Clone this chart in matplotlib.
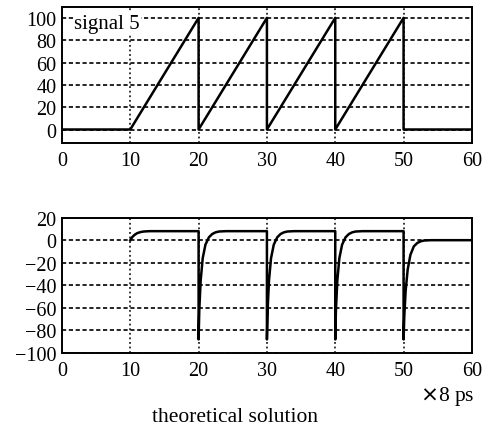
import matplotlib.pyplot as plt

plt.rcParams['font.family'] = ['Liberation Serif', 'DejaVu Serif']
plt.rcParams['font.size'] = 14.5

# signal 5 (sawtooth)
t_top = [0, 10, 20, 20, 30, 30, 40, 40, 50, 50, 60]
v_top = [0, 0, 100, 0, 100, 0, 100, 0, 100, 0, 0]

# theoretical solution
t_bot = [10, 10.3, 10.6, 11.0, 11.5, 12.0, 12.5, 13.0, 20,
         20, 20.1, 20.3, 20.6, 21.0, 21.5, 22.0, 22.5, 23.0, 24.0, 30,
         30, 30.1, 30.3, 30.6, 31.0, 31.5, 32.0, 32.5, 33.0, 34.0, 40,
         40, 40.1, 40.3, 40.6, 41.0, 41.5, 42.0, 42.5, 43.0, 44.0, 50,
         50, 50.1, 50.3, 50.6, 51.0, 51.5, 52.0, 52.5, 53.0, 54.0, 60]
v_bot = [0, 2.8, 4.6, 6.2, 7.2, 7.7, 7.9, 8, 8,
         -88, -62, -36, -16, -4, 2.5, 5.5, 7, 7.7, 8, 8,
         -88, -62, -36, -16, -4, 2.5, 5.5, 7, 7.7, 8, 8,
         -88, -62, -36, -16, -4, 2.5, 5.5, 7, 7.7, 8, 8,
         -88, -68, -45, -26, -13, -5.5, -2.5, -1, -0.3, 0, 0]

xticks = [0, 10, 20, 30, 40, 50, 60]
yticks_top = [0, 20, 40, 60, 80, 100]
yticks_bot = [-100, -80, -60, -40, -20, 0, 20]

fig = plt.figure(figsize=(4.84, 4.27), dpi=100)
ax1 = fig.add_axes([0.128, 0.663, 0.847, 0.319])
ax2 = fig.add_axes([0.128, 0.171, 0.847, 0.317])


def style(ax, yticks):
    ax.set_xlim(0, 60)
    ax.set_xticks(xticks)
    ax.set_yticks(yticks)
    ax.tick_params(length=0, pad=4)
    ax.tick_params(axis='x', pad=6)
    for s in ax.spines.values():
        s.set_linewidth(1.4)
    for x in xticks[1:-1]:
        ax.axvline(x, color='black', lw=1.1, ls=(0, (1.2, 1.8)), zorder=1)
    for y in yticks:
        ax.axhline(y, color='black', lw=1.2, ls=(0, (2.5, 1.6)), zorder=1)


style(ax1, yticks_top)
ax1.set_ylim(-12, 110)
ax1.plot(t_top, v_top, color='black', lw=1.8, zorder=3)
ax1.text(1.8, 95, 'signal 5', fontsize=15, va='center', ha='left',
         bbox=dict(facecolor='white', edgecolor='none', pad=1), zorder=4)

style(ax2, yticks_bot)
ax2.set_ylim(-100, 20)
ax2.plot(t_bot, v_bot, color='black', lw=1.8, zorder=3)

fig.text(0.98, 0.072, r'$\times$8 ps', ha='right', va='center', fontsize=15.5)
fig.text(0.485, 0.023, 'theoretical solution', ha='center', va='center', fontsize=15.5)

fig.savefig('out.png', dpi=100)
